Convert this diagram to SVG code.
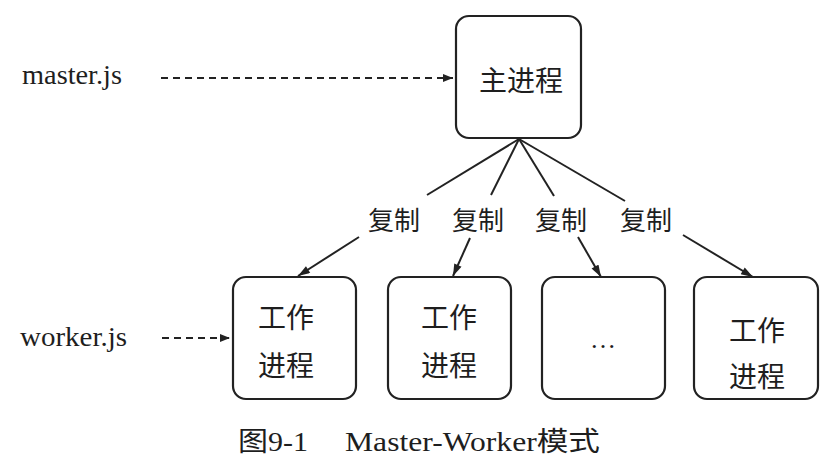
<svg xmlns="http://www.w3.org/2000/svg" width="838" height="466" viewBox="0 0 838 466">
<defs>
<style>
.box{fill:#ffffff;stroke:#222;stroke-width:2.2}
.cjk{font-family:"Noto Sans CJK SC","Noto Sans",sans-serif;fill:#1e1e1e;text-anchor:middle}
.lat{font-family:"Liberation Serif","Noto Sans CJK SC",serif;fill:#1e1e1e}
.ln{stroke:#222;stroke-width:2;fill:none}
.dash{stroke:#222;stroke-width:2;fill:none;stroke-dasharray:7 5}
</style>
<marker id="ah" viewBox="0 0 10 8" refX="10" refY="4" markerWidth="10" markerHeight="8" markerUnits="userSpaceOnUse" orient="auto">
<path d="M0,0 L10,4 L0,8 Z" fill="#222"/>
</marker>
<marker id="ah2" viewBox="0 0 12 8" refX="12" refY="4" markerWidth="13" markerHeight="8" markerUnits="userSpaceOnUse" orient="auto">
<path d="M0,0 L12,4 L0,8 Z" fill="#222"/>
</marker>
</defs>
<rect width="838" height="466" fill="#ffffff"/>

<g id="connectors">
<line class="dash" x1="161" y1="78" x2="453" y2="78" marker-end="url(#ah)"/>
<line class="dash" x1="162" y1="338" x2="230" y2="338" marker-end="url(#ah)"/>
<line class="ln" x1="519" y1="139" x2="427" y2="195"/>
<line class="ln" x1="519" y1="139" x2="491" y2="195"/>
<line class="ln" x1="519" y1="139" x2="554" y2="196"/>
<line class="ln" x1="519" y1="139" x2="625" y2="201"/>
<line class="ln" x1="359" y1="237" x2="298" y2="276" marker-end="url(#ah2)"/>
<line class="ln" x1="470" y1="238" x2="453" y2="276" marker-end="url(#ah2)"/>
<line class="ln" x1="578" y1="237" x2="601" y2="277" marker-end="url(#ah2)"/>
<line class="ln" x1="683" y1="235" x2="753" y2="277" marker-end="url(#ah2)"/>
<text class="cjk" x="394" y="230" font-size="26">复制</text>
<text class="cjk" x="478" y="230" font-size="26">复制</text>
<text class="cjk" x="561" y="230" font-size="26">复制</text>
<text class="cjk" x="646" y="230" font-size="26">复制</text>
</g>

<g id="master-label">
<text class="lat" x="22" y="84" font-size="27" textLength="100" lengthAdjust="spacingAndGlyphs">master.js</text>
</g>
<g id="worker-label">
<text class="lat" x="20" y="346" font-size="27" textLength="107" lengthAdjust="spacingAndGlyphs">worker.js</text>
</g>

<g id="master">
<rect class="box" x="456" y="16" width="125" height="122" rx="13"/>
<text class="cjk" x="521" y="91" font-size="28">主进程</text>
</g>

<g id="worker1">
<rect class="box" x="233" y="277" width="123" height="122" rx="13"/>
<text class="cjk" x="286" y="328" font-size="28">工作</text>
<text class="cjk" x="286" y="376" font-size="28">进程</text>
</g>
<g id="worker2">
<rect class="box" x="388" y="277" width="123" height="122" rx="13"/>
<text class="cjk" x="449" y="328" font-size="28">工作</text>
<text class="cjk" x="449" y="376" font-size="28">进程</text>
</g>
<g id="worker3">
<rect class="box" x="542" y="277" width="123" height="122" rx="13"/>
<text class="lat" x="603" y="348" font-size="26" text-anchor="middle">…</text>
</g>
<g id="worker4">
<rect class="box" x="694" y="277" width="124" height="122" rx="13"/>
<text class="cjk" x="757" y="341" font-size="28">工作</text>
<text class="cjk" x="757" y="387" font-size="28">进程</text>
</g>

<g id="caption">
<text class="lat" x="238" y="451" font-size="27" textLength="70" lengthAdjust="spacingAndGlyphs">图9-1</text>
<text class="lat" x="345" y="451" font-size="27" textLength="255" lengthAdjust="spacingAndGlyphs">Master-Worker模式</text>
</g>
</svg>
